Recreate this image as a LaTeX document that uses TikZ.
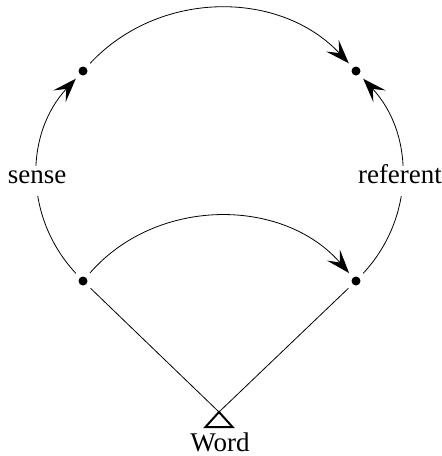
\documentclass[tikz,border=0pt]{standalone}
\usepackage{fontspec}
\setmainfont{Liberation Serif}
\usetikzlibrary{arrows.meta}
\begin{document}
\begin{tikzpicture}[x=1pt,y=-1pt,
  font=\fontsize{27}{32}\selectfont,
  dot/.style={circle,fill,inner sep=0pt,minimum size=9pt,outer sep=6pt},
  arcline/.style={line width=0.8pt},
  tipped/.style={-{Stealth[length=24pt,width=17pt,inset=10pt,line width=1.2pt]}},
  lbl/.style={fill=white,text height=0.7em,text depth=0.25em,inner ysep=10pt,inner xsep=1pt}]
\useasboundingbox (0,0) rectangle (442,456);
\node[dot] (tl) at (83,71) {};
\node[dot] (tr) at (356,71) {};
\node[dot] (bl) at (83,281) {};
\node[dot] (br) at (356,281) {};
\coordinate (apex) at (219,412);
\node[anchor=base,inner sep=0pt] (word) at (220,451) {Word};
\draw[line width=2pt] (apex) -- ++(-13.5,15) -- ++(27,0) -- cycle;
\draw[arcline,tipped] (tl) to[bend left=47] (tr);
\draw[arcline,tipped] (bl) to[bend left=49] (br);
\draw[arcline,tipped] (bl) to[bend left=43] node[lbl,midway,yshift=-5pt]{sense} (tl);
\draw[arcline,tipped] (br) to[bend right=43] node[lbl,midway,yshift=-5pt,xshift=-2pt]{referent} (tr);
\draw[arcline] (bl) -- (apex);
\draw[arcline] (br) -- (apex);
\end{tikzpicture}
\end{document}
